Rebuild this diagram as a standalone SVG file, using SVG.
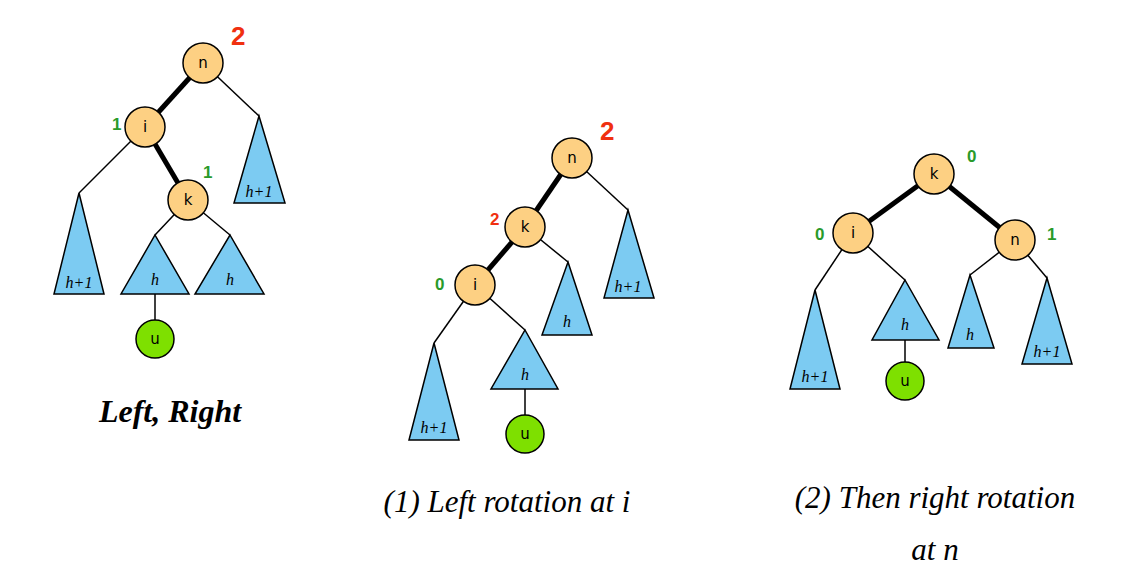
<svg xmlns="http://www.w3.org/2000/svg" width="1138" height="584" viewBox="0 0 1138 584">
<style>
.e{stroke:#000;stroke-width:1.5;fill:none}
.b{stroke:#000;stroke-width:5;fill:none}
.t{fill:#7ccbf2;stroke:#000;stroke-width:1.5}
.n{fill:#fdd083;stroke:#000;stroke-width:1.5}
.u{fill:#7ee000;stroke:#000;stroke-width:1.5}
.l{font-family:"DejaVu Sans",sans-serif;font-size:15px;text-anchor:middle}
.h{font-family:"Liberation Serif",serif;font-style:italic;font-size:16px;text-anchor:middle}
.r{font-family:"Liberation Sans",sans-serif;font-weight:bold;fill:#f03010;font-size:26px}
.r2{font-family:"Liberation Sans",sans-serif;font-weight:bold;fill:#f03010;font-size:17px}
.g{font-family:"Liberation Sans",sans-serif;font-weight:bold;fill:#2a9a2a;font-size:17px}
.c{font-family:"Liberation Serif",serif;font-style:italic;font-size:31px;text-anchor:middle}
</style>
<rect width="1138" height="584" fill="#fff"/>
<g id="connectors">
<line class="b" x1="203" y1="63" x2="145" y2="127"/>
<line class="b" x1="145" y1="127" x2="188" y2="200"/>
<line class="e" x1="203" y1="63" x2="259" y2="116"/>
<line class="e" x1="145" y1="127" x2="79" y2="193"/>
<line class="e" x1="188" y1="200" x2="155" y2="235"/>
<line class="e" x1="188" y1="200" x2="230" y2="235"/>
<line class="e" x1="155" y1="294" x2="155" y2="339"/>
<line class="b" x1="572" y1="158" x2="525" y2="227"/>
<line class="b" x1="525" y1="227" x2="475" y2="285"/>
<line class="e" x1="572" y1="158" x2="628" y2="210"/>
<line class="e" x1="525" y1="227" x2="568" y2="262"/>
<line class="e" x1="475" y1="285" x2="434" y2="343"/>
<line class="e" x1="475" y1="285" x2="525" y2="330"/>
<line class="e" x1="525" y1="389" x2="525" y2="434"/>
<line class="b" x1="934" y1="174" x2="853" y2="233"/>
<line class="b" x1="934" y1="174" x2="1015" y2="240"/>
<line class="e" x1="853" y1="233" x2="815" y2="290"/>
<line class="e" x1="853" y1="233" x2="905" y2="280"/>
<line class="e" x1="905" y1="340" x2="905" y2="381"/>
<line class="e" x1="1015" y1="240" x2="970" y2="275"/>
<line class="e" x1="1015" y1="240" x2="1047" y2="278"/>
</g>
<g id="tri1"><polygon class="t" points="79,193 104,294 54,294"/><text class="h" x="79" y="288">h+1</text></g>
<g id="tri2"><polygon class="t" points="259,116 285,203 234,203"/><text class="h" x="259" y="197">h+1</text></g>
<g id="tri3"><polygon class="t" points="155,235 189,294 121,294"/><text class="h" x="155" y="285">h</text></g>
<g id="tri4"><polygon class="t" points="230,235 264,294 195,294"/><text class="h" x="230" y="285">h</text></g>
<g id="n1"><circle class="n" cx="203" cy="63" r="20"/><text class="l" x="203" y="68">n</text></g>
<g id="i1"><circle class="n" cx="145" cy="127" r="20"/><text class="l" x="145" y="132">i</text></g>
<g id="k1"><circle class="n" cx="188" cy="200" r="20"/><text class="l" x="188" y="205">k</text></g>
<g id="u1"><circle class="u" cx="155" cy="339" r="19"/><text class="l" x="155" y="344">u</text></g>
<text class="r" x="231" y="45">2</text>
<text class="g" x="112" y="130">1</text>
<text class="g" x="203" y="178">1</text>
<text class="c" x="170" y="422" style="font-weight:bold;font-size:32px">Left, Right</text>

<g id="tri5"><polygon class="t" points="628,210 654,298 604,298"/><text class="h" x="628" y="292">h+1</text></g>
<g id="tri6"><polygon class="t" points="568,262 592,335 542,335"/><text class="h" x="567" y="327">h</text></g>
<g id="tri7"><polygon class="t" points="434,343 459,440 409,440"/><text class="h" x="434" y="433">h+1</text></g>
<g id="tri8"><polygon class="t" points="525,330 558,389 491,389"/><text class="h" x="525" y="380">h</text></g>
<g id="n2"><circle class="n" cx="572" cy="158" r="20"/><text class="l" x="572" y="163">n</text></g>
<g id="k2"><circle class="n" cx="525" cy="227" r="20"/><text class="l" x="525" y="232">k</text></g>
<g id="i2"><circle class="n" cx="475" cy="285" r="20"/><text class="l" x="475" y="290">i</text></g>
<g id="u2"><circle class="u" cx="525" cy="434" r="19"/><text class="l" x="525" y="439">u</text></g>
<text class="r" x="600" y="140">2</text>
<text class="r2" x="490" y="225">2</text>
<text class="g" x="435" y="290">0</text>
<text class="c" x="507" y="512">(1) Left rotation at i</text>

<g id="tri9"><polygon class="t" points="815,290 840,389 790,389"/><text class="h" x="815" y="382">h+1</text></g>
<g id="tri10"><polygon class="t" points="905,280 939,340 872,340"/><text class="h" x="905" y="330">h</text></g>
<g id="tri11"><polygon class="t" points="970,275 994,348 948,348"/><text class="h" x="970" y="340">h</text></g>
<g id="tri12"><polygon class="t" points="1047,278 1072,364 1022,364"/><text class="h" x="1047" y="357">h+1</text></g>
<g id="k3"><circle class="n" cx="934" cy="174" r="20"/><text class="l" x="934" y="179">k</text></g>
<g id="i3"><circle class="n" cx="853" cy="233" r="20"/><text class="l" x="853" y="238">i</text></g>
<g id="n3"><circle class="n" cx="1015" cy="240" r="20"/><text class="l" x="1015" y="245">n</text></g>
<g id="u3"><circle class="u" cx="905" cy="381" r="19"/><text class="l" x="905" y="386">u</text></g>
<text class="g" x="967" y="162">0</text>
<text class="g" x="815" y="240">0</text>
<text class="g" x="1047" y="240">1</text>
<text class="c" x="935" y="508">(2) Then right rotation</text>
<text class="c" x="935" y="560">at n</text>
</svg>
